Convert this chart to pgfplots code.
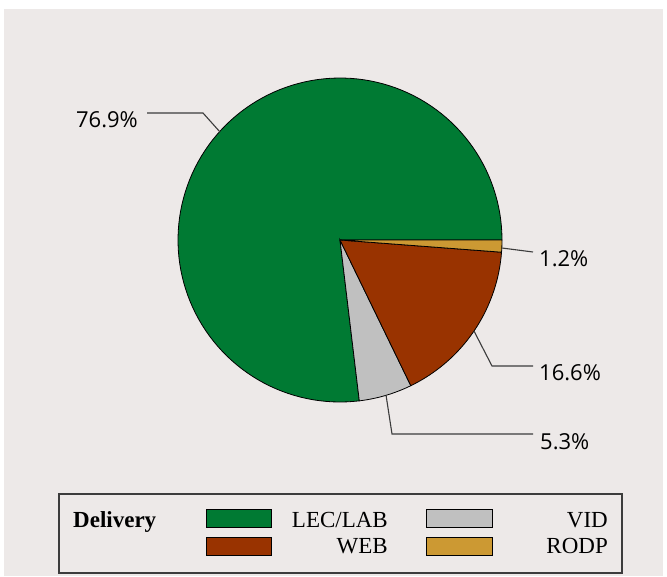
\documentclass[border=0pt]{standalone}
\usepackage{pgfplots}
\pgfplotsset{compat=1.18}
\usepackage{fontspec}
\setmainfont{Liberation Serif}
\newfontfamily\labelfont{Open Sans}
\definecolor{bgc}{RGB}{237,233,232}
\definecolor{lec}{RGB}{0,122,51}
\definecolor{web}{RGB}{153,51,0}
\definecolor{vid}{RGB}{192,192,192}
\definecolor{rodp}{RGB}{204,153,51}
\definecolor{lead}{RGB}{60,60,60}
% pie geometry (pixel units)
\def\cx{340}
\def\cy{240}
\def\rr{162}
% data (percent)
\def\vLEC{76.9}
\def\vVID{5.3}
\def\vWEB{16.6}
\def\vRODP{1.2}
\begin{document}
\begin{tikzpicture}
\pgfmathsetmacro\aA{3.6*\vLEC}
\pgfmathsetmacro\aB{\aA+3.6*\vVID}
\pgfmathsetmacro\aC{\aB+3.6*\vWEB}
\pgfmathsetmacro\aD{\aC+3.6*\vRODP}
\begin{axis}[scale only axis, width=667pt, height=576pt,
  xmin=0, xmax=667, ymin=0, ymax=576, y dir=reverse,
  hide axis, clip=false]
\fill[white] (axis cs:0,0) rectangle (axis cs:667,576);
\fill[bgc] (axis cs:4,9) rectangle (axis cs:663,576);
% slices
\addplot[fill=lec, draw=black, line width=0.8pt, domain=0:\aA, samples=120, variable=\t]
  ({\cx+\rr*cos(\t)},{\cy-\rr*sin(\t)}) -- (axis cs:\cx,\cy) -- cycle;
\addplot[fill=vid, draw=black, line width=0.8pt, domain=\aA:\aB, samples=20, variable=\t]
  ({\cx+\rr*cos(\t)},{\cy-\rr*sin(\t)}) -- (axis cs:\cx,\cy) -- cycle;
\addplot[fill=web, draw=black, line width=0.8pt, domain=\aB:\aC, samples=40, variable=\t]
  ({\cx+\rr*cos(\t)},{\cy-\rr*sin(\t)}) -- (axis cs:\cx,\cy) -- cycle;
\addplot[fill=rodp, draw=black, line width=0.8pt, domain=\aC:\aD, samples=6, variable=\t]
  ({\cx+\rr*cos(\t)},{\cy-\rr*sin(\t)}) -- (axis cs:\cx,\cy) -- cycle;
% leader lines
\draw[lead, line width=1.1pt] (axis cs:147,113) -- (axis cs:203,113) -- (axis cs:220,132);
\draw[lead, line width=1.1pt] (axis cs:502,248) -- (axis cs:533,252);
\draw[lead, line width=1.1pt] (axis cs:474,331) -- (axis cs:492,366) -- (axis cs:533,366);
\draw[lead, line width=1.1pt] (axis cs:386,395) -- (axis cs:392,434) -- (axis cs:533,434);
% labels
\begin{scope}[every node/.style={inner sep=0pt, font=\labelfont\fontsize{22}{26}\selectfont}]
\node[anchor=base east] at (axis cs:138,127) {76.9\%};
\node[anchor=base west] at (axis cs:539,266) {1.2\%};
\node[anchor=base west] at (axis cs:539,380) {16.6\%};
\node[anchor=base west] at (axis cs:540,449) {5.3\%};
\end{scope}
% legend
\draw[lead, line width=1.2pt] (axis cs:59,494) rectangle (axis cs:622,573);
\begin{scope}[every node/.style={inner sep=0pt, font=\fontsize{23}{27}\selectfont}]
\node[anchor=base west, font=\bfseries\fontsize{23}{27}\selectfont] at (axis cs:73,527) {Delivery};
\draw[black, line width=1pt, fill=lec] (axis cs:206,509) rectangle (axis cs:271,527);
\draw[black, line width=1pt, fill=web] (axis cs:206,537) rectangle (axis cs:271,555);
\draw[black, line width=1pt, fill=vid] (axis cs:426,509) rectangle (axis cs:492,527);
\draw[black, line width=1pt, fill=rodp] (axis cs:426,537) rectangle (axis cs:492,555);
\node[anchor=base east] at (axis cs:388,527) {LEC/LAB};
\node[anchor=base east] at (axis cs:388,553) {WEB};
\node[anchor=base east] at (axis cs:608,527) {VID};
\node[anchor=base east] at (axis cs:608,553) {RODP};
\end{scope}
\end{axis}
\end{tikzpicture}
\end{document}
